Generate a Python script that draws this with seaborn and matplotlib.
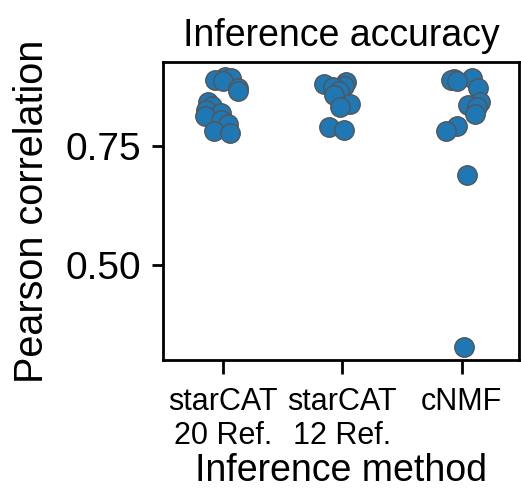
import numpy as np
import pandas as pd
import seaborn as sns
from matplotlib import pyplot as plt

methods = ["starCAT\n20 Ref.", "starCAT\n12 Ref.", "cNMF"]
star20 = [0.894, 0.892, 0.889, 0.886, 0.872, 0.865, 0.842, 0.835, 0.826, 0.819,
          0.812, 0.804, 0.797, 0.781, 0.777]
star12 = [0.884, 0.881, 0.877, 0.873, 0.866, 0.857, 0.838, 0.831, 0.790, 0.784]
cnmf = [0.893, 0.891, 0.889, 0.886, 0.871, 0.842, 0.836, 0.831, 0.818, 0.793,
        0.781, 0.689, 0.328]

df = pd.DataFrame({
    "method": [methods[0]] * len(star20) + [methods[1]] * len(star12) + [methods[2]] * len(cnmf),
    "corr": star20 + star12 + cnmf,
})

sns.set_style("ticks", {"axes.edgecolor": "black", "xtick.color": "black",
                        "ytick.color": "black", "text.color": "black",
                        "axes.labelcolor": "black"})
plt.rcParams["font.family"] = ["Liberation Sans", "DejaVu Sans"]

np.random.seed(3)
fig = plt.figure(figsize=(5.21, 4.94), dpi=100)
ax = fig.add_axes([0.313, 0.271, 0.683, 0.603])
sns.stripplot(data=df, x="method", y="corr", order=methods, color="#1f77b4",
              size=14, jitter=0.16, edgecolor="#555555", linewidth=1, ax=ax)

ax.set_xlim(-0.5, 2.48)
ax.set_ylim(0.30, 0.926)
ax.set_yticks([0.50, 0.75])
ax.set_yticklabels(["0.50", "0.75"])
ax.set_title("Inference accuracy", fontsize=27, pad=12)
ax.set_xlabel("Inference method", fontsize=27, labelpad=1)
ax.set_ylabel("Pearson correlation", fontsize=28.5, labelpad=10)
ax.tick_params(axis="y", labelsize=28, width=2, length=8, pad=8)
ax.tick_params(axis="x", labelsize=22, width=2, length=10, pad=9)
for s in ax.spines.values():
    s.set_linewidth(2)

fig.savefig("out.png", dpi=100)
